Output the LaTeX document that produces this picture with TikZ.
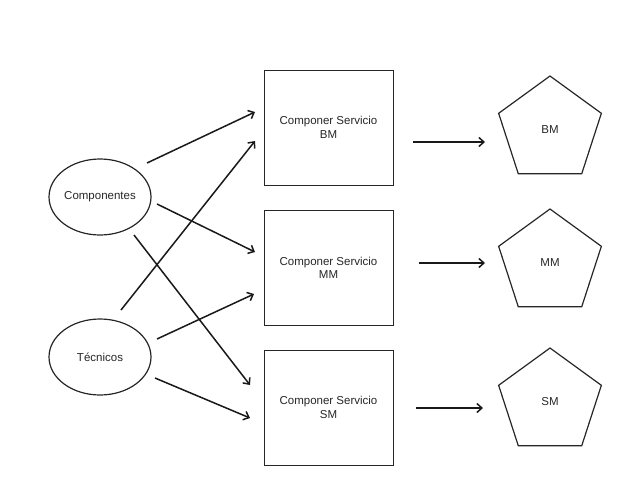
\documentclass[tikz,border=0pt]{standalone}
\usepackage{fontspec}
\setmainfont{Liberation Sans}
\usetikzlibrary{shapes.geometric,arrows.meta}
\begin{document}
\begin{tikzpicture}[x=1pt,y=-1pt,
  every node/.style={font=\fontsize{11.5}{13.5}\selectfont, text=black!85},
  oval/.style={draw=black!85, line width=1.2pt, ellipse, minimum width=102pt, minimum height=76pt, inner sep=0pt},
  svcbox/.style={draw=black!85, line width=1pt, minimum width=129pt, minimum height=115pt, inner sep=0pt, align=center},
  penta/.style={draw=black!85, line width=1.2pt, regular polygon, regular polygon sides=5, minimum size=108pt, inner sep=0pt, outer sep=0pt},
  link/.style={draw=black!90, line width=1.5pt, -{Straight Barb[length=5pt,width=9pt,line width=1.5pt]}}]
\useasboundingbox (0,0) rectangle (626,485);
\node[oval] (comp) at (100,197) {Componentes};
\node[oval] (tec) at (100,357) {Técnicos};
\node[svcbox] (bmbox) at (328.5,127.5) {Componer Servicio\\BM};
\node[svcbox] (mmbox) at (328.5,268) {Componer Servicio\\MM};
\node[svcbox] (smbox) at (328.5,407.5) {Componer Servicio\\SM};
\node[penta] (bm) at (550,130) {BM};
\node[penta] (mm) at (550,263) {MM};
\node[penta] (sm) at (550,402) {SM};
% arrow end points
\coordinate (a1s) at (147,163); \coordinate (a1e) at (255,112);
\coordinate (a2s) at (121,310); \coordinate (a2e) at (255,141);
\coordinate (a3s) at (157,204); \coordinate (a3e) at (255,252);
\coordinate (a4s) at (134,235); \coordinate (a4e) at (250,385);
\coordinate (a5s) at (157,339); \coordinate (a5e) at (254,294);
\coordinate (a6s) at (155,378); \coordinate (a6e) at (250,418);
\coordinate (a7s) at (413,142); \coordinate (a7e) at (485,142);
\coordinate (a8s) at (419,263); \coordinate (a8e) at (485,263);
\coordinate (a9s) at (416,408); \coordinate (a9e) at (483,408);
\draw[link] (a1s) -- (a1e);
\draw[link] (a2s) -- (a2e);
\draw[link] (a3s) -- (a3e);
\draw[link] (a4s) -- (a4e);
\draw[link] (a5s) -- (a5e);
\draw[link] (a6s) -- (a6e);
\draw[link] (a7s) -- (a7e);
\draw[link] (a8s) -- (a8e);
\draw[link] (a9s) -- (a9e);
\end{tikzpicture}
\end{document}
